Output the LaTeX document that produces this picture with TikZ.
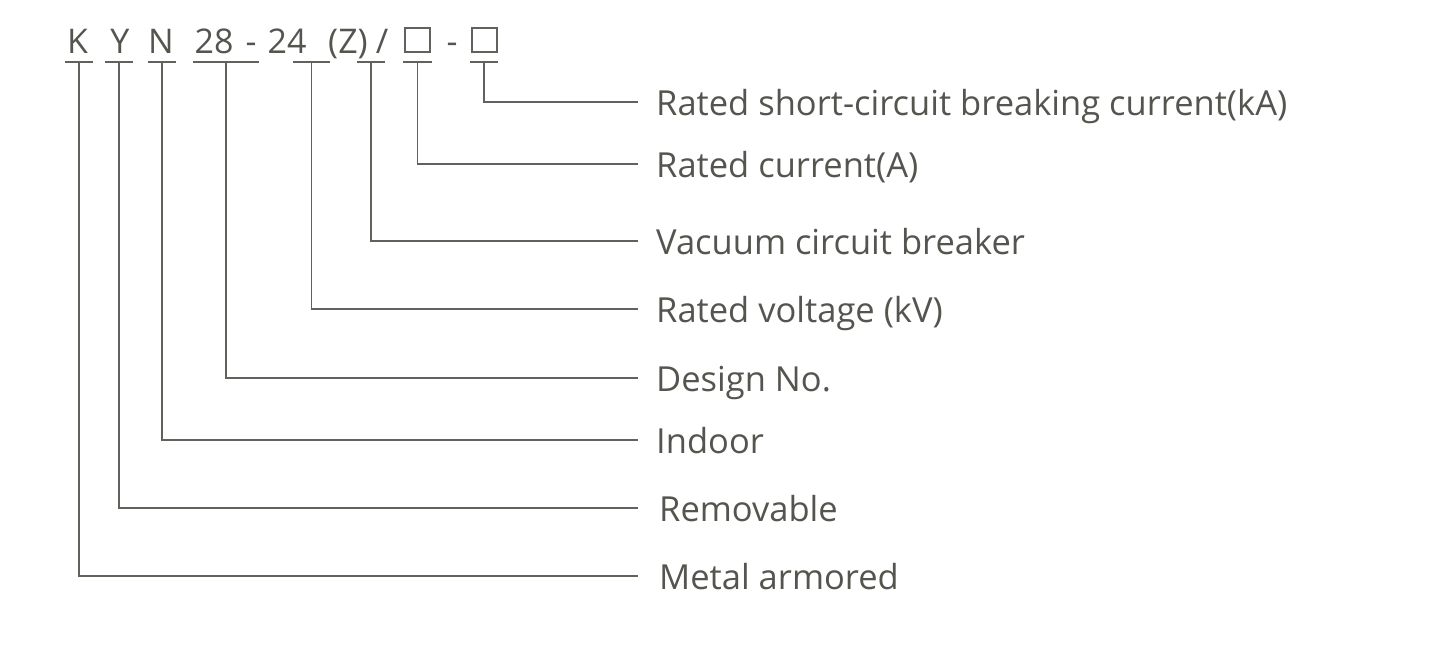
\documentclass[tikz,border=0pt]{standalone}
\usepackage{fontspec}
\setmainfont{Open Sans}
\usetikzlibrary{positioning,calc}
\definecolor{linegray}{RGB}{98,98,93}
\definecolor{textgray}{RGB}{85,85,80}

\begin{document}
\begin{tikzpicture}[x=1pt,y=-1pt,
  code/.style={anchor=base,inner sep=0pt,text=textgray,font=\fontsize{34}{40}\selectfont},
  meaning/.style={anchor=west,inner sep=0pt,text height=27pt,text depth=0pt,text=textgray,font=\fontsize{34.5}{40}\selectfont},
  slot/.style={draw=linegray,line width=1.5pt,minimum width=25pt,minimum height=24pt,inner sep=0pt},
  lead/.style={draw=linegray,line width=1.5pt}]
\useasboundingbox (0,0) rectangle (1455,662);

% model code
\node[code] (K)   at (77.5,53)  {K};
\node[code] (Y)   at (120,53)   {Y};
\node[code] (N)   at (161,53)   {N};
\node[code] (d28) at (214,53)   {28};
\node[code] (h1)  at (251,53)   {-};
\node[code] (d24) at (287,53)   {24};
\node[code] (Z)   at (348,53)   {(Z)};
\node[code] (sl)  at (382,53)   {/};
\node[slot] (s1)  at (417.5,40) {};
\node[code] (h2)  at (452,53)   {-};
\node[slot] (s2)  at (484.5,40) {};

% meanings
\node[meaning] (lBrk) at (656,102) {Rated short-circuit breaking current(kA)};
\node[meaning] (lCur) at (656,164) {Rated current(A)};
\node[meaning] (lVcb) at (656,241) {Vacuum circuit breaker};
\node[meaning] (lVol) at (656,309) {Rated voltage (kV)};
\node[meaning] (lDes) at (656,378) {Design No.};
\node[meaning] (lInd) at (656,440) {Indoor};
\node[meaning] (lRem) at (659,508) {Removable};
\node[meaning] (lArm) at (659,576) {Metal armored};

% underlines
\foreach \n/\x/\w in {K/79/14, Y/119/14, N/162/14, d28/226/33, d24/311.5/18.5,
                      Z/371/14, s1/417.5/14.5, s2/484/14} {
  \coordinate (u\n) at (\x,62);
  \draw[lead] ([xshift=-\w pt]u\n) -- ([xshift=\w pt]u\n);
}

% leaders
\draw[lead,shorten >=18pt] (us2)  |- (lBrk.west);
\draw[lead,shorten >=18pt] (us1)  |- (lCur.west);
\draw[lead,shorten >=18pt] (uZ)   |- (lVcb.west);
\draw[lead,shorten >=18pt] (ud24) |- (lVol.west);
\draw[lead,shorten >=18pt] (ud28) |- (lDes.west);
\draw[lead,shorten >=18pt] (uN)   |- (lInd.west);
\draw[lead,shorten >=21pt] (uY)   |- (lRem.west);
\draw[lead,shorten >=21pt] (uK)   |- (lArm.west);
\end{tikzpicture}
\end{document}
